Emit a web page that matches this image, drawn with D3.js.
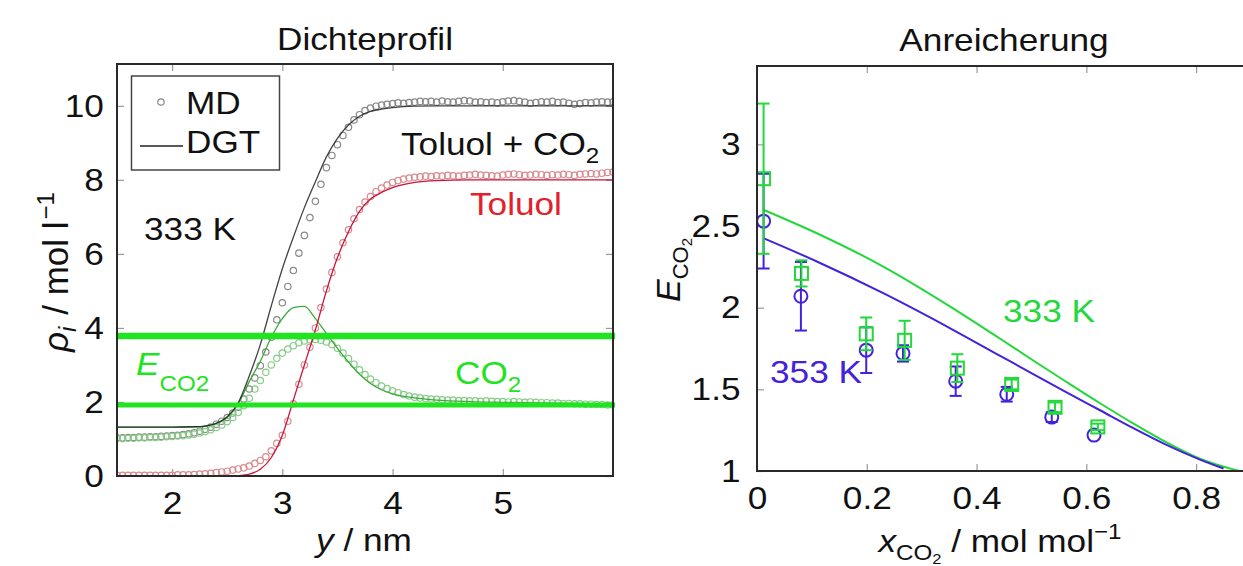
<!DOCTYPE html>
<html>
<head>
<meta charset="utf-8">
<script src="https://cdn.jsdelivr.net/npm/d3@7"></script>
<style>
  body { margin: 0; background: #fff; }
  text { font-family: "Liberation Sans", Arial, Helvetica, sans-serif; }
</style>
</head>
<body>
<div id="chart"></div>
<script>
// ---- Dichteprofil: MD samples (nm, mol/l)
const yMD = [1.50,1.55,1.60,1.65,1.70,1.75,1.80,1.85,1.90,1.95,2.00,2.05,2.10,2.15,2.20,2.25,2.30,2.35,2.40,2.45,
  2.50,2.55,2.60,2.65,2.70,2.75,2.80,2.85,2.90,2.95,3.00,3.05,3.10,3.15,3.20,3.25,3.30,3.35,3.40,3.45,
  3.50,3.55,3.60,3.65,3.70,3.75,3.80,3.85,3.90,3.95,4.00,4.05,4.10,4.15,4.20,4.25,4.30,4.35,4.40,4.45,
  4.50,4.55,4.60,4.65,4.70,4.75,4.80,4.85,4.90,4.95,5.00,5.05,5.10,5.15,5.20,5.25,5.30,5.35,5.40,5.45,
  5.50,5.55,5.60,5.65,5.70,5.75,5.80,5.85,5.90,5.95,6.00];
const mdTotal = [1.03,1.03,1.04,1.04,1.05,1.05,1.06,1.06,1.07,1.08,1.09,1.10,1.12,1.14,1.17,1.21,1.26,1.32,1.40,1.48,
  1.58,1.70,1.86,2.08,2.35,2.65,2.98,3.35,3.75,4.22,4.68,5.12,5.55,6.02,6.50,6.98,7.42,7.88,8.33,8.66,
  8.95,9.20,9.42,9.62,9.76,9.87,9.94,9.99,10.02,10.04,10.06,10.08,10.07,10.09,10.10,10.12,10.11,10.12,10.10,10.13,
  10.11,10.10,10.12,10.14,10.13,10.10,10.11,10.09,10.10,10.08,10.11,10.13,10.14,10.12,10.10,10.07,10.09,10.11,10.10,10.12,
  10.09,10.10,10.07,10.04,10.06,10.09,10.08,10.10,10.11,10.10,10.11];
const mdToluol = [0.02,0.02,0.02,0.02,0.02,0.02,0.02,0.02,0.02,0.02,0.02,0.03,0.03,0.03,0.04,0.05,0.06,0.07,0.09,0.11,
  0.13,0.16,0.19,0.22,0.27,0.34,0.42,0.52,0.68,0.88,1.10,1.48,1.95,2.48,3.00,3.48,4.00,4.55,5.05,5.50,
  5.92,6.30,6.65,6.95,7.20,7.40,7.55,7.68,7.78,7.86,7.93,7.98,8.02,8.05,8.07,8.08,8.10,8.09,8.11,8.10,
  8.12,8.11,8.10,8.12,8.13,8.15,8.13,8.12,8.11,8.10,8.13,8.15,8.16,8.14,8.12,8.13,8.15,8.14,8.12,8.14,
  8.13,8.15,8.14,8.12,8.15,8.16,8.17,8.16,8.18,8.20,8.21];
const mdCO2 = [1.01,1.01,1.02,1.02,1.03,1.03,1.04,1.04,1.05,1.06,1.07,1.08,1.09,1.11,1.13,1.16,1.20,1.25,1.31,1.38,
  1.47,1.58,1.72,1.90,2.10,2.35,2.58,2.80,3.00,3.18,3.32,3.43,3.52,3.60,3.65,3.68,3.69,3.67,3.62,3.55,
  3.45,3.32,3.17,3.02,2.87,2.74,2.62,2.52,2.43,2.36,2.30,2.25,2.20,2.16,2.13,2.11,2.09,2.08,2.07,2.06,
  2.05,2.05,2.04,2.04,2.03,2.03,2.02,2.03,2.02,2.01,2.01,2.00,2.01,2.00,1.99,2.00,1.99,1.98,1.98,1.97,
  1.97,1.96,1.96,1.95,1.95,1.94,1.94,1.93,1.93,1.92,1.92];

// ---- Dichteprofil: DGT curves
const yDGT = [1.5,2.0,2.2,2.3,2.4,2.5,2.6,2.7,2.8,2.9,3.0,3.1,3.2,3.3,3.4,3.5,3.6,3.7,3.8,3.9,4.0,4.2,4.4,4.7,5.0,6.0];
const dgtTotal = [1.32,1.32,1.33,1.35,1.42,1.60,1.98,2.70,3.55,4.60,5.60,6.45,7.25,7.95,8.62,9.12,9.48,9.72,9.85,9.91,9.95,9.99,10.0,10.0,10.0,10.0];
const dgtToluol = [0,0,0,0,0,0,0.01,0.05,0.18,0.50,1.10,2.05,3.00,3.95,5.00,5.90,6.60,7.15,7.48,7.66,7.79,7.93,7.98,8.0,8.0,8.0];
const dgtCO2 = [1.32,1.32,1.33,1.35,1.42,1.58,1.95,2.55,3.10,3.75,4.25,4.55,4.58,4.25,3.85,3.45,3.08,2.75,2.50,2.33,2.22,2.11,2.05,2.01,1.99,1.95];

// enrichment marker lines (mol/l)
const eLines = [3.78, 1.92];

// ---- Anreicherung
const x333 = [0.0115,0.109,0.230,0.352,0.443,0.504,0.564,0.625,0.686,0.746,0.807,0.868,0.88];
const e333 = [2.60,2.456,2.252,2.007,1.81,1.675,1.545,1.415,1.29,1.175,1.075,1.01,1.0];
const x353 = [0.0115,0.109,0.230,0.352,0.443,0.504,0.564,0.625,0.686,0.746,0.807,0.850];
const e353 = [2.426,2.283,2.089,1.874,1.705,1.592,1.482,1.372,1.262,1.16,1.07,1.015];

const xSim333 = [0.012,0.081,0.199,0.269,0.365,0.464,0.543,0.621];
const eSim333 = [2.79,2.21,1.84,1.80,1.63,1.53,1.39,1.27];
const errSim333 = [0.46,0.08,0.10,0.12,0.085,0.03,0.03,0.02];
const xSim353 = [0.012,0.080,0.199,0.266,0.362,0.455,0.537,0.614];
const eSim353 = [2.53,2.07,1.74,1.72,1.55,1.47,1.33,1.22];
const errSim353 = [0.29,0.21,0.14,0.05,0.09,0.045,0.03,0];

const W = 1243, H = 566;
const green = "#1fe41f", red = "#e3202c", blue = "#4422dd", green2 = "#22d83a";
const stretch = "scale(1.1,1)";

const svg = d3.select("#chart").append("svg").attr("width", W).attr("height", H);
svg.append("rect").attr("width", W).attr("height", H).attr("fill", "#fff");

// text helper: parts = [[str, {size, dy, italic}], ...]
function label(g, x, y, parts, opt = {}) {
  const t = g.append("text")
    .attr("transform", `translate(${x},${y})${opt.rotate ? " rotate(-90)" : ""} ${opt.rotate ? "" : stretch}`)
    .attr("text-anchor", opt.anchor || "start")
    .attr("fill", opt.color || "#111")
    .attr("font-size", opt.size || 32);
  parts.forEach(([s, o]) => {
    o = o || {};
    const sp = t.append("tspan").text(s);
    if (o.size) sp.attr("font-size", o.size);
    if (o.dy) sp.attr("dy", o.dy);
    if (o.dx) sp.attr("dx", o.dx);
    if (o.italic) sp.attr("font-style", "italic");
  });
  return t;
}

function axes(g, x, y, box, xt, yt, fx, fy, padY) {
  const styleAxis = a => {
    a.select(".domain").remove();
    a.selectAll(".tick line").attr("stroke", "#9a9a9a").attr("stroke-width", 1.2);
    a.selectAll(".tick text").attr("font-size", 32).attr("fill", "#111")
      .attr("font-family", '"Liberation Sans", Arial, sans-serif')
      .attr("transform", stretch);
  };
  g.append("g").attr("transform", `translate(0,${box.bottom})`)
    .call(d3.axisBottom(x).tickValues(xt).tickSize(-7).tickPadding(15).tickFormat(fx)).call(styleAxis);
  g.append("g").attr("transform", `translate(0,${box.top})`)
    .call(d3.axisTop(x).tickValues(xt).tickSize(-7).tickFormat("")).call(styleAxis);
  g.append("g").attr("transform", `translate(${box.left},0)`)
    .call(d3.axisLeft(y).tickValues(yt).tickSize(-7).tickPadding(padY).tickFormat(fy)).call(styleAxis);
  g.append("g").attr("transform", `translate(${box.right},0)`)
    .call(d3.axisRight(y).tickValues(yt).tickSize(-7).tickFormat("")).call(styleAxis);
}

function frame(g, box) {
  g.append("rect").attr("x", box.left).attr("y", box.top)
    .attr("width", box.right - box.left).attr("height", box.bottom - box.top)
    .attr("fill", "none").attr("stroke", "#2a2a2a").attr("stroke-width", 2);
}

// ================= left panel =================
const L = { left: 117, right: 613, top: 64, bottom: 476 };
const xL = d3.scaleLinear().domain([1.5, 6]).range([L.left, L.right]);
const yL = d3.scaleLinear().domain([0, 11.13]).range([L.bottom, L.top]);
const gL = svg.append("g");

svg.append("defs").append("clipPath").attr("id", "clipL").append("rect")
  .attr("x", L.left).attr("y", L.top).attr("width", L.right - L.left).attr("height", L.bottom - L.top);

axes(gL, xL, yL, L, [2, 3, 4, 5], [0, 2, 4, 6, 8, 10], d3.format("d"), d3.format("d"), 12);

const plotL = gL.append("g").attr("clip-path", "url(#clipL)");
const mdSeries = [
  { v: mdTotal, c: "#888" },
  { v: mdToluol, c: "#d98a8e" },
  { v: mdCO2, c: "#86cc86" }
];
mdSeries.forEach(s => {
  plotL.append("g").selectAll("circle").data(yMD).join("circle")
    .attr("cx", d => xL(d)).attr("cy", (d, i) => yL(s.v[i])).attr("r", 3.2)
    .attr("fill", "none").attr("stroke", s.c).attr("stroke-width", 1.2);
});

const lineL = v => d3.line().curve(d3.curveMonotoneX)
  .x(d => xL(d)).y((d, i) => yL(v[i]))(yDGT);
plotL.append("path").attr("d", lineL(dgtCO2)).attr("fill", "none").attr("stroke", "#3aaa3a").attr("stroke-width", 1.3);
plotL.append("path").attr("d", lineL(dgtToluol)).attr("fill", "none").attr("stroke", "#c8143a").attr("stroke-width", 1.3);
plotL.append("path").attr("d", lineL(dgtTotal)).attr("fill", "none").attr("stroke", "#222").attr("stroke-width", 1.3)
  .attr("stroke-opacity", 0.85);

gL.selectAll(".eline").data(eLines).join("line").attr("class", "eline")
  .attr("x1", L.left).attr("x2", L.right + 2)
  .attr("y1", d => yL(d)).attr("y2", d => yL(d))
  .attr("stroke", green).attr("stroke-width", (d, i) => i === 0 ? 6.5 : 5);

frame(gL, L);

// legend
gL.append("rect").attr("x", 131.5).attr("y", 76).attr("width", 148).attr("height", 94)
  .attr("fill", "#fff").attr("stroke", "#444").attr("stroke-width", 1.5);
gL.append("circle").attr("cx", 161).attr("cy", 102).attr("r", 3.2)
  .attr("fill", "none").attr("stroke", "#888").attr("stroke-width", 1.2);
label(gL, 186, 114, [["MD"]]);
gL.append("line").attr("x1", 140).attr("x2", 183).attr("y1", 146).attr("y2", 146)
  .attr("stroke", "#222").attr("stroke-width", 1.3);
label(gL, 186, 153, [["DGT"]]);

label(gL, 401, 155, [["Toluol + CO"], ["2", { size: 22, dy: 8 }]]);
label(gL, 470, 215, [["Toluol"]], { color: red });
label(gL, 144, 240, [["333 K"]]);
label(gL, 455, 384, [["CO"], ["2", { size: 22, dy: 8 }]], { color: green });
label(gL, 136, 375, [["E", { italic: true }], ["CO2", { size: 22, dy: 16 }]], { color: green });

label(gL, 365, 50, [["Dichteprofil"]], { anchor: "middle" });
label(gL, 364, 551, [["y", { italic: true }], [" / nm"]], { anchor: "middle" });
label(gL, 68, 272, [["ρ", { italic: true }], ["i", { italic: true, size: 24, dy: 8 }], [" / mol l", { dy: -8, dx: 2 }],
  ["−1", { size: 24, dy: -14, dx: 2 }]], { anchor: "middle", rotate: true, size: 35 });

// ================= right panel =================
const R = { left: 757, right: 1251, top: 66, bottom: 471 };
const xR = d3.scaleLinear().domain([0, 0.9]).range([R.left, R.right]);
const yR = d3.scaleLinear().domain([1, 3.48]).range([R.bottom, R.top]);
const gR = svg.append("g");

svg.select("defs").append("clipPath").attr("id", "clipR").append("rect")
  .attr("x", R.left).attr("y", R.top).attr("width", R.right - R.left).attr("height", R.bottom - R.top);

axes(gR, xR, yR, R, [0, 0.2, 0.4, 0.6, 0.8], [1, 1.5, 2, 2.5, 3], d => String(d), d => String(d), 15);

const plotR = gR.append("g").attr("clip-path", "url(#clipR)");
const lineR = (xs, ys) => d3.line().curve(d3.curveMonotoneX).x(d => xR(d)).y((d, i) => yR(ys[i]))(xs);
plotR.append("path").attr("d", lineR(x333, e333)).attr("fill", "none").attr("stroke", green2).attr("stroke-width", 2);
plotR.append("path").attr("d", lineR(x353, e353)).attr("fill", "none").attr("stroke", blue).attr("stroke-width", 2);

function errBars(xs, ys, es, color) {
  const g = plotR.append("g").attr("stroke", color).attr("stroke-width", 2).attr("fill", "none");
  xs.forEach((xv, i) => {
    if (!es[i]) return;
    const cx = xR(xv), y1 = yR(ys[i] - es[i]), y2 = yR(ys[i] + es[i]);
    g.append("line").attr("x1", cx).attr("x2", cx).attr("y1", y1).attr("y2", y2);
    g.append("line").attr("x1", cx - 6).attr("x2", cx + 6).attr("y1", y1).attr("y2", y1);
    g.append("line").attr("x1", cx - 6).attr("x2", cx + 6).attr("y1", y2).attr("y2", y2);
  });
}
errBars(xSim353, eSim353, errSim353, blue);
plotR.append("g").selectAll("circle").data(xSim353).join("circle")
  .attr("cx", d => xR(d)).attr("cy", (d, i) => yR(eSim353[i])).attr("r", 6.5)
  .attr("fill", "none").attr("stroke", blue).attr("stroke-width", 2);
errBars(xSim333, eSim333, errSim333, green2);
plotR.append("g").selectAll("rect").data(xSim333).join("rect")
  .attr("x", d => xR(d) - 6.5).attr("y", (d, i) => yR(eSim333[i]) - 6.5)
  .attr("width", 13).attr("height", 13)
  .attr("fill", "none").attr("stroke", green2).attr("stroke-width", 2);

frame(gR, R);

label(gR, 1003, 322, [["333 K"]], { color: green2 });
label(gR, 770, 383, [["353 K"]], { color: blue });

label(gR, 1004, 51, [["Anreicherung"]], { anchor: "middle" });
label(gR, 1000, 552, [["x", { italic: true }], ["CO", { size: 22, dy: 8 }], ["2", { size: 15, dy: 4 }],
  [" / mol mol", { dy: -12 }], ["−1", { size: 22, dy: -13 }]], { anchor: "middle" });
label(gR, 680, 270, [["E", { italic: true }], ["CO", { size: 22, dy: 8 }], ["2", { size: 15, dy: 4 }]],
  { anchor: "middle", rotate: true, size: 34 });
</script>
</body>
</html>
